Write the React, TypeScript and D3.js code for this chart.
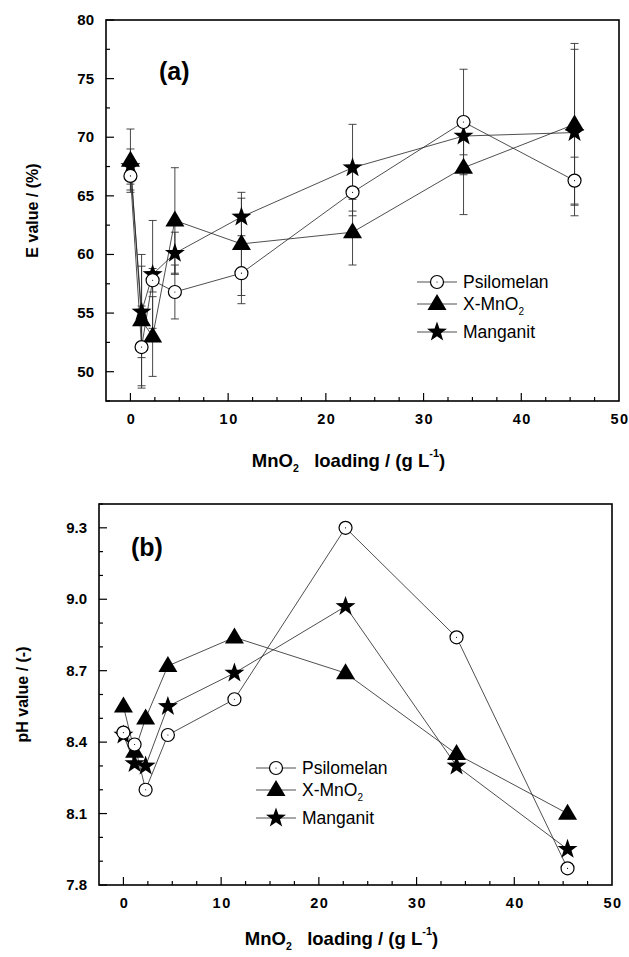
import React from 'react';
import * as d3 from 'd3';

// MnO2 loading, g/L
const loading = [0, 1.14, 2.27, 4.55, 11.36, 22.73, 34.09, 45.45];

// panel (a) E value (%)
const ePsilomelan = [66.7, 52.1, 57.8, 56.8, 58.4, 65.3, 71.3, 66.3];
const eXMnO2 = [68.0, 54.4, 53.0, 62.9, 60.9, 61.9, 67.4, 71.1];
const eManganit = [67.5, 55.1, 58.3, 60.1, 63.2, 67.4, 70.1, 70.4];
const errPsilomelan = [1.2, 3.5, 1.0, 2.3, 2.6, 2.0, 4.5, 2.0];
const errXMnO2 = [2.7, 5.6, 3.4, 4.5, 4.4, 2.8, 4.0, 6.9];
const errManganit = [1.5, 3.9, 4.6, 1.8, 1.6, 3.7, 1.6, 7.1];

// panel (b) pH value
const phPsilomelan = [8.44, 8.39, 8.2, 8.43, 8.58, 9.3, 8.84, 7.87];
const phXMnO2 = [8.55, 8.36, 8.5, 8.72, 8.84, 8.69, 8.35, 8.1];
const phManganit = [8.43, 8.31, 8.3, 8.55, 8.69, 8.97, 8.3, 7.95];

const seriesNames = ['Psilomelan', 'X-MnO2', 'Manganit'];
const eTicks = [50, 55, 60, 65, 70, 75, 80];
const phTicks = [7.8, 8.1, 8.4, 8.7, 9.0, 9.3];
const xTicks = [0, 10, 20, 30, 40, 50];

const FONT = '"Liberation Sans", Arial, Helvetica, sans-serif';

function starPath(R: number, r: number) {
  const pts: [number, number][] = [];
  for (let i = 0; i < 10; i++) {
    const a = -Math.PI / 2 + (i * Math.PI) / 5;
    const rad = i % 2 ? r : R;
    pts.push([Math.cos(a) * rad, Math.sin(a) * rad]);
  }
  return 'M' + pts.map(p => p.join(',')).join('L') + 'Z';
}

function triPath(w: number, h: number) {
  return `M0,${-h * 0.62}L${w / 2},${h * 0.38}L${-w / 2},${h * 0.38}Z`;
}

function Marker({kind, x, y}: {kind: number; x: number; y: number}) {
  if (kind === 0) {
    return (
      <g transform={`translate(${x},${y})`}>
        <circle r={6.5} fill="white" stroke="black" strokeWidth={1.2} />
        <circle r={0.6} fill="black" />
      </g>
    );
  }
  if (kind === 1) {
    return <path transform={`translate(${x},${y})`} d={triPath(19, 16)} fill="black" />;
  }
  return <path transform={`translate(${x},${y})`} d={starPath(10.5, 4.2)} fill="black" />;
}

interface PanelProps {
  left: number; top: number; right: number; bottom: number;
  yDomain: [number, number];
  yTicks: number[];
  yMinor: number;
  yFmt: (v: number) => string;
  series: number[][];
  errors?: number[][];
  tag: string;
  tagPos: [number, number];
  legendPos: [number, number];
  yTitle: string;
  yTitleX: number;
  xTitleY: number;
}

function Panel(p: PanelProps) {
  const x = d3.scaleLinear().domain([-2.5, 50]).range([p.left, p.right]);
  const y = d3.scaleLinear().domain(p.yDomain).range([p.bottom, p.top]);
  const line = d3.line<number>().x((d, i) => x(loading[i])).y(d => y(d));
  const xMinor = d3.range(0, 50, 2.5);
  const yMinorTicks = d3.range(0, Math.round((p.yDomain[1] - p.yDomain[0]) / p.yMinor) + 1)
    .map(i => p.yDomain[0] + i * p.yMinor);
  const cap = 4;
  const midY = (p.top + p.bottom) / 2;
  const midX = (p.left + p.right) / 2;
  return (
    <g fontFamily={FONT}>
      {/* series lines */}
      {p.series.map((s, si) => (
        <path key={'l' + si} d={line(s) || ''} fill="none" stroke="#222" strokeWidth={0.8} />
      ))}
      {/* error bars */}
      {p.errors && p.series.map((s, si) => s.map((v, i) => {
        const e = p.errors![si][i];
        const cx = x(loading[i]);
        const y1 = y(v - e), y2 = y(v + e);
        return (
          <g key={'e' + si + '-' + i} stroke="#333" strokeWidth={0.9}>
            <line x1={cx} x2={cx} y1={y1} y2={y2} />
            <line x1={cx - cap} x2={cx + cap} y1={y1} y2={y1} />
            <line x1={cx - cap} x2={cx + cap} y1={y2} y2={y2} />
          </g>
        );
      }))}
      {/* markers, drawn in reverse so circles stay visible on top */}
      {[2, 1, 0].map(si => p.series[si].map((v, i) => (
        <Marker key={'m' + si + '-' + i} kind={si} x={x(loading[i])} y={y(v)} />
      )))}
      {/* frame */}
      <rect x={p.left} y={p.top} width={p.right - p.left} height={p.bottom - p.top}
        fill="none" stroke="black" strokeWidth={1.6} />
      {/* x ticks (inward) */}
      {xMinor.map(t => {
        const major = t % 10 === 0;
        return <line key={'xt' + t} x1={x(t)} x2={x(t)} y1={p.bottom} y2={p.bottom - (major ? 8 : 4)}
          stroke="black" strokeWidth={1.2} />;
      })}
      {xTicks.map(t => (
        <text key={'xl' + t} x={x(t) + 1} y={p.bottom + 23} textAnchor="middle" fontSize={14.5}
          fontWeight="bold" letterSpacing={1.5}>{t}</text>
      ))}
      {/* y ticks (inward) */}
      {yMinorTicks.map((t, i) => {
        const major = p.yTicks.some(v => Math.abs(v - t) < 1e-6);
        return <line key={'yt' + i} x1={p.left} x2={p.left + (major ? 8 : 4)} y1={y(t)} y2={y(t)}
          stroke="black" strokeWidth={1.2} />;
      })}
      {p.yTicks.map(t => (
        <text key={'yl' + t} x={p.left - 12} y={y(t) + 5} textAnchor="end" fontSize={15}
          fontWeight="bold">{p.yFmt(t)}</text>
      ))}
      {/* panel tag */}
      <text x={p.tagPos[0]} y={p.tagPos[1]} fontSize={25} fontWeight="bold">{p.tag}</text>
      {/* axis titles */}
      <text transform={`translate(${p.yTitleX},${midY}) rotate(-90)`} textAnchor="middle"
        fontSize={16} fontWeight="bold">{p.yTitle}</text>
      <text x={midX - 14} y={p.xTitleY} textAnchor="middle" fontSize={18.5} fontWeight="bold">
        <tspan>MnO</tspan>
        <tspan fontSize={10.5} dy={5}>2</tspan>
        <tspan dy={-5} xmlSpace="preserve">{'   loading / (g L'}</tspan>
        <tspan fontSize={11} dy={-10}>-1</tspan>
        <tspan dy={10}>)</tspan>
      </text>
      {/* legend */}
      {seriesNames.map((n, si) => {
        const lx = p.legendPos[0];
        const ly = p.legendPos[1] + [0, 22, 50][si];
        return (
          <g key={'lg' + si}>
            <line x1={lx} x2={lx + 40} y1={ly} y2={ly} stroke="#222" strokeWidth={0.8} />
            <Marker kind={si} x={lx + 20} y={ly} />
            <text x={lx + 46} y={ly + 6} fontSize={17.5}>
              {si === 1 ? (<>
                <tspan>X-MnO</tspan>
                <tspan fontSize={10} dy={5}>2</tspan>
              </>) : n}
            </text>
          </g>
        );
      })}
    </g>
  );
}

export default function App() {
  return (
    <svg width={629} height={957} style={{position: 'absolute', left: 0, top: 0, background: 'white'}}>
      <rect width={629} height={957} fill="white" />
      <Panel left={106} top={20} right={619} bottom={401}
        yDomain={[47.5, 80]} yTicks={eTicks} yMinor={2.5} yFmt={v => String(v)}
        series={[ePsilomelan, eXMnO2, eManganit]}
        errors={[errPsilomelan, errXMnO2, errManganit]}
        tag="(a)" tagPos={[159, 80]} legendPos={[417, 282]}
        yTitle="E value / (%)" yTitleX={38} xTitleY={467} />
      <Panel left={99} top={504} right={612} bottom={885}
        yDomain={[7.8, 9.4]} yTicks={phTicks} yMinor={0.1} yFmt={v => v.toFixed(1)}
        series={[phPsilomelan, phXMnO2, phManganit]}
        tag="(b)" tagPos={[131, 556]} legendPos={[256, 768]}
        yTitle="pH value / (-)" yTitleX={28} xTitleY={945} />
    </svg>
  );
}
